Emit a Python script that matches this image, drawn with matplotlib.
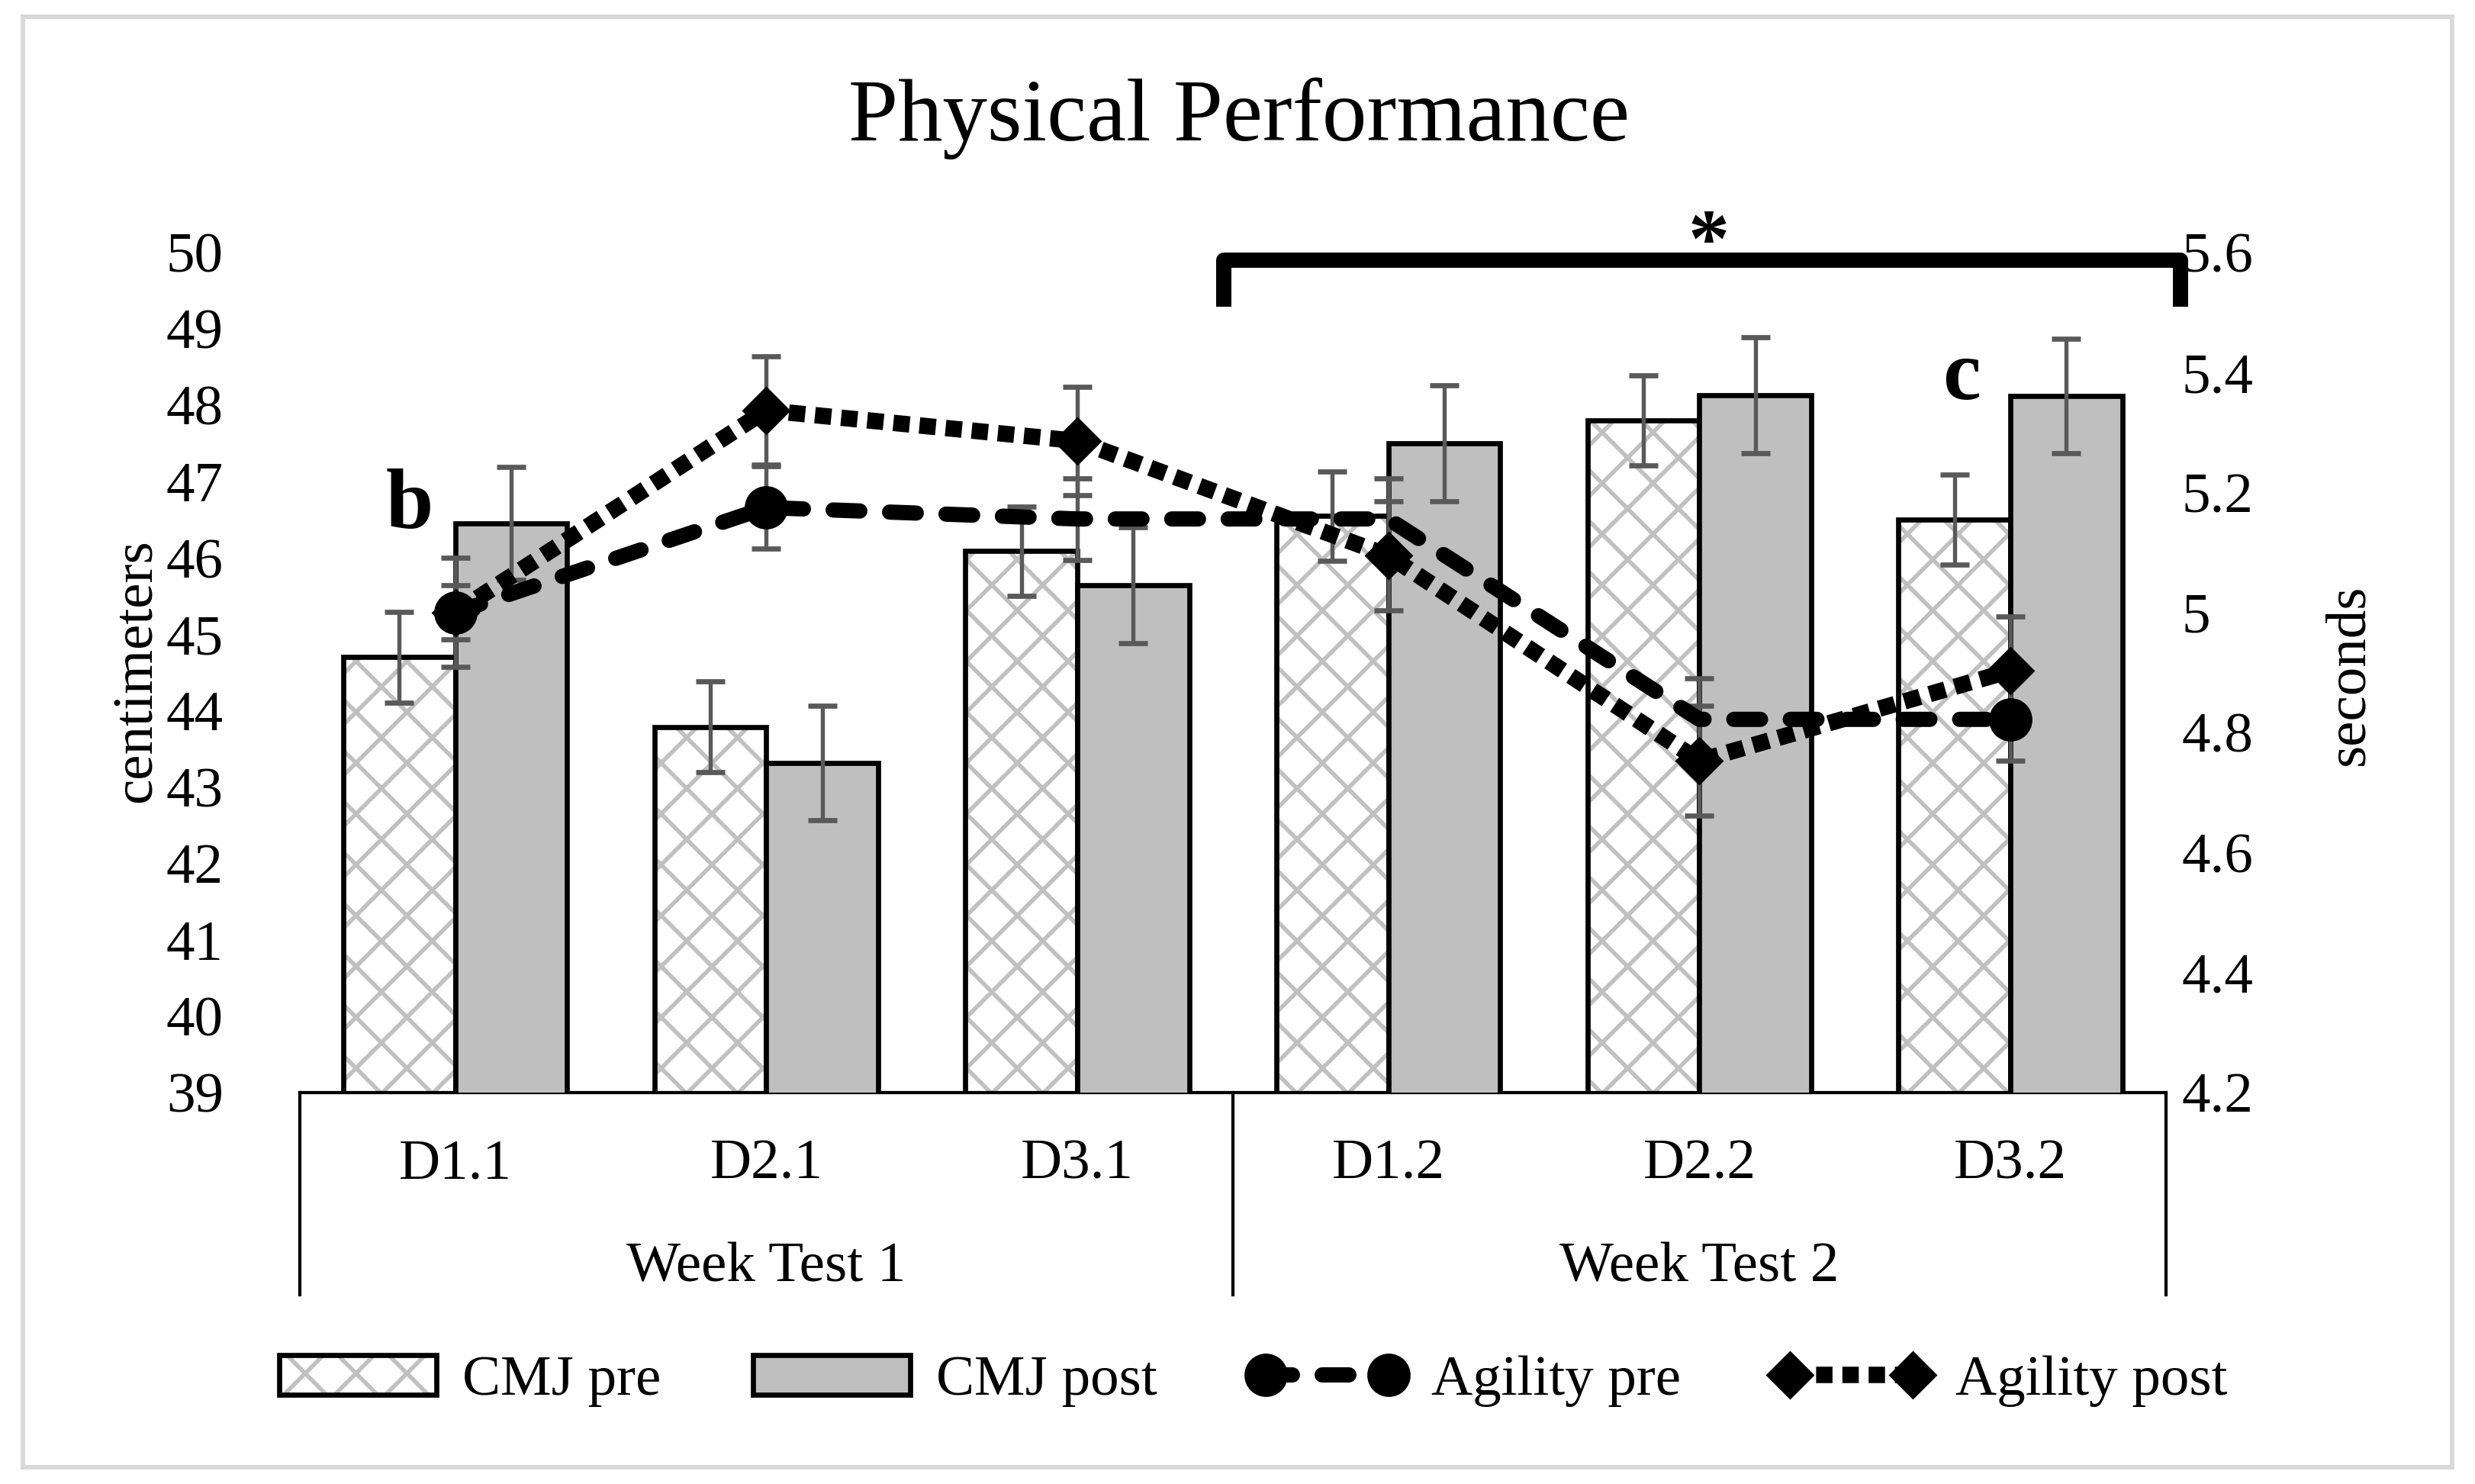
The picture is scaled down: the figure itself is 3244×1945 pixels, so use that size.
import matplotlib
matplotlib.use('Agg')
import matplotlib.pyplot as plt
import matplotlib.transforms as mtransforms
from matplotlib.patches import Patch, Rectangle
from matplotlib.lines import Line2D
import numpy as np

DPI = 200


def px(v):
    # size in output pixels -> points
    return v * 72.0 / DPI


plt.rcParams['font.family'] = ['Liberation Serif', 'DejaVu Serif']
plt.rcParams['hatch.linewidth'] = px(5.5)

# data
days = ['D1.1', 'D2.1', 'D3.1', 'D1.2', 'D2.2', 'D3.2']
weeks = ['Week Test 1', 'Week Test 2']
week_centers = [1, 4]

cmj_pre = [44.70, 43.79, 46.09, 46.55, 47.80, 46.50]
cmj_pre_err = [0.59, 0.59, 0.585, 0.585, 0.59, 0.59]
cmj_post = [46.45, 43.32, 45.64, 47.50, 48.13, 48.12]
cmj_post_err = [0.74, 0.75, 0.76, 0.76, 0.76, 0.75]

agility_pre = [5.00, 5.175, 5.156, 5.156, 4.822, 4.822]
agility_pre_err = [0.045, 0.069, 0.068, 0.068, 0.069, 0.069]
agility_post = [5.00, 5.337, 5.286, 5.095, 4.753, 4.903]
agility_post_err = [0.091, 0.090, 0.090, 0.091, 0.092, 0.091]

left_ticks = list(range(39, 51))
right_ticks = [4.2, 4.4, 4.6, 4.8, 5.0, 5.2, 5.4, 5.6]
right_labels = ['4.2', '4.4', '4.6', '4.8', '5', '5.2', '5.4', '5.6']

fs = px(75)
err_col = '#595959'
bar_gray = '#bfbfbf'
hatch_gray = '#c0c0c0'
err_kw = dict(fmt='none', ecolor=err_col, elinewidth=px(5.4), capsize=px(19), capthick=px(6.7))

fig = plt.figure(figsize=(3244 / DPI, 1945 / DPI), dpi=DPI)
ax = fig.add_axes([0.1211, 0.2638, 0.7540, 0.5660])
ax2 = ax.twinx()

x = np.arange(len(days))
w = 0.36

# CMJ bars
ax.bar(x - w / 2, cmj_pre, w, color='white', edgecolor=hatch_gray, hatch='x', linewidth=0, zorder=2)
ax.bar(x - w / 2, cmj_pre, w, fill=False, edgecolor='black', linewidth=px(6.7), zorder=3)
ax.bar(x + w / 2, cmj_post, w, color=bar_gray, edgecolor='black', linewidth=px(6.7), zorder=3)
ax.errorbar(x - w / 2, cmj_pre, yerr=cmj_pre_err, zorder=4, **err_kw)
ax.errorbar(x + w / 2, cmj_post, yerr=cmj_post_err, zorder=4, **err_kw)

ax.set_xlim(-0.5, 5.5)
ax.set_ylim(39, 50)
ax.set_yticks(left_ticks)
ax.set_xticks([])
ax.tick_params(axis='y', length=0, pad=px(100), labelsize=fs)
for s in ['left', 'right', 'top']:
    ax.spines[s].set_visible(False)
ax.spines['bottom'].set_linewidth(px(4.2))

# Agility lines
ax2.errorbar(x, agility_pre, yerr=agility_pre_err, zorder=1, **err_kw)
ax2.errorbar(x, agility_post, yerr=agility_post_err, zorder=1, **err_kw)
ax2.plot(x, agility_pre, color='black', lw=px(20), linestyle=(0, (1.75, 1.95)),
         dash_capstyle='round', marker='o', markersize=px(54), markevery=[0, 1, 5], zorder=3)
ax2.plot(x, agility_post, color='black', lw=px(21.5), linestyle=(0, (1.0, 0.6)),
         dash_capstyle='butt', marker='D', markersize=px(42), zorder=4)
ax2.set_ylim(4.2, 5.6)
ax2.set_yticks(right_ticks)
ax2.set_yticklabels(right_labels)
ax2.tick_params(axis='y', length=0, pad=px(21), labelsize=fs)
for s in ['left', 'right', 'top', 'bottom']:
    ax2.spines[s].set_visible(False)

# category labels (two levels)
trans = mtransforms.blended_transform_factory(ax.transData, ax.transAxes)
for xi, d in zip(x, days):
    ax.text(xi, -0.1026, d, transform=trans, ha='center', va='baseline', fontsize=fs)
for xc, wk in zip(week_centers, weeks):
    ax.text(xc, -0.2252, wk, transform=trans, ha='center', va='baseline', fontsize=fs)
for xs in [-0.5, 2.5, 5.5]:
    ax.plot([xs, xs], [0, -0.2407], transform=trans, color='black', lw=px(4.2), clip_on=False)

# annotations
ax.text(-0.147, 46.39, 'b', ha='center', va='baseline', fontsize=px(112), fontweight='bold')
ax.text(4.843, 48.08, 'c', ha='center', va='baseline', fontsize=px(112), fontweight='bold')
ax.plot([2.47, 2.47, 5.546, 5.546], [49.29, 49.90, 49.90, 49.29], color='black', lw=px(20),
        clip_on=False, solid_joinstyle='round', solid_capstyle='butt', zorder=5)
ax.text(4.03, 49.82, '*', ha='center', va='baseline', fontsize=px(108), fontweight='bold')

# titles and axis labels
fig.text(1624 / 3244, 1 - 155 / 1945, 'Physical Performance', ha='center', va='center', fontsize=px(117))
fig.text(180 / 3244, 1 - 879 / 1945, 'centimeters', rotation=90, ha='center', va='center', fontsize=fs)
fig.text(3080 / 3244, 1 - 884 / 1945, 'seconds', rotation=90, ha='center', va='center', fontsize=fs)

# legend
h_pre = (Patch(facecolor='white', edgecolor=hatch_gray, hatch='x', linewidth=0),
         Patch(fill=False, edgecolor='black', linewidth=px(6.7)))
h_post = Patch(facecolor=bar_gray, edgecolor='black', linewidth=px(6.7))
h_apre = Line2D([], [], color='black', lw=px(20), linestyle=(0, (1.75, 1.95)),
                dash_capstyle='round', marker='o', markersize=px(54))
h_apost = Line2D([], [], color='black', lw=px(21.5), linestyle=(0, (1.0, 0.6)),
                 marker='D', markersize=px(42))
fig.legend([h_pre, h_post, h_apre, h_apost], ['CMJ pre', 'CMJ post', 'Agility pre', 'Agility post'],
           loc='center', bbox_to_anchor=(0.5065, 0.0694), ncol=4, frameon=False, fontsize=fs,
           handlelength=2.75, handletextpad=0.45, columnspacing=1.6, numpoints=2)

# outer chart border
fig.add_artist(Rectangle((30 / 3244, 22 / 1945), 1 - 60 / 3244, 1 - 44 / 1945,
                         transform=fig.transFigure, fill=False, edgecolor='#d9d9d9', lw=px(6)))

fig.savefig('out.png', dpi=DPI, facecolor='white')
